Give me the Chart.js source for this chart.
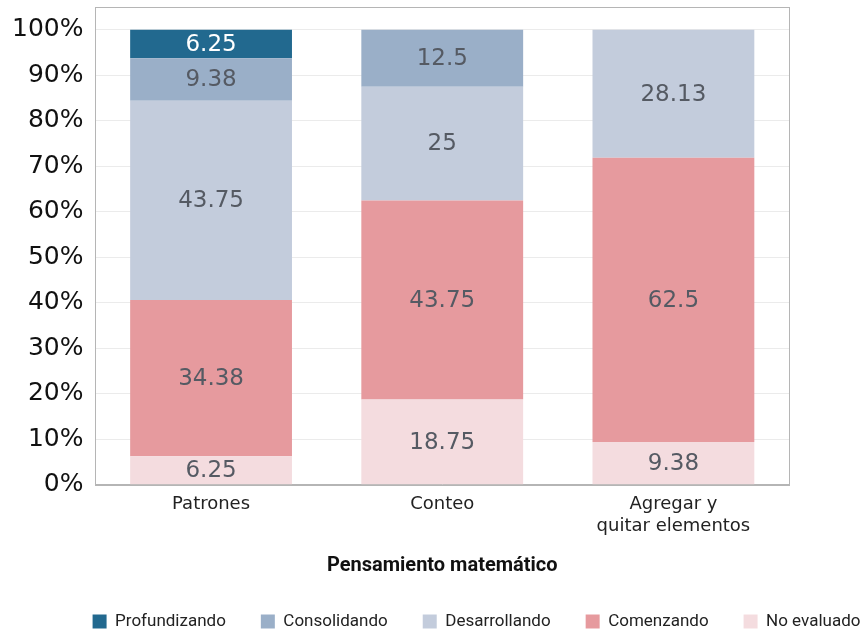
<!DOCTYPE html>
<html>
<head>
<meta charset="utf-8">
<script src="https://cdn.jsdelivr.net/npm/chart.js@4.4.0/dist/chart.umd.min.js"></script>
<style>
html,body{margin:0;padding:0;background:#fff;}
#contenedor{width:863px;height:633px;}
</style>
</head>
<body>
<div id="contenedor"><canvas id="grafica"></canvas></div>
<script>
var categorias = ['Patrones', 'Conteo', ['Agregar y', 'quitar elementos']];
var noEvaluado = [6.25, 18.75, 9.38];
var comenzando = [34.38, 43.75, 62.5];
var desarrollando = [43.75, 25, 28.13];
var consolidando = [9.38, 12.5, 0];
var profundizando = [6.25, 0, 0];
var marcasY = [0, 10, 20, 30, 40, 50, 60, 70, 80, 90, 100];

// etiquetas dentro de cada tramo
var etiquetas = {
	id: 'etiquetas',
	afterDatasetsDraw: function(chart){
		var ctx = chart.ctx;
		ctx.save();
		ctx.font = '23px "DejaVu Sans"';
		ctx.textAlign = 'center';
		ctx.textBaseline = 'middle';
		chart.data.datasets.forEach(function(ds, i){
			var meta = chart.getDatasetMeta(i);
			meta.data.forEach(function(barra, j){
				var v = ds.data[j];
				if(!v) return;
				ctx.fillStyle = ds.colorTexto;
				ctx.fillText(String(v), barra.x, (barra.y + barra.base) / 2 + 1);
			});
		});
		ctx.restore();
	}
};

// marco gris del área + leyenda corrida a la derecha
var marco = {
	id: 'marco',
	afterLayout: function(chart){
		chart.legend.left += 45;
		chart.legend.right += 45;
	},
	afterDraw: function(chart){
		var a = chart.chartArea, ctx = chart.ctx;
		ctx.save();
		ctx.strokeStyle = '#b5b5b5';
		ctx.lineWidth = 1;
		ctx.strokeRect(Math.round(a.left) + 0.5, Math.round(a.top) + 0.5, Math.round(a.right - a.left), Math.round(a.bottom - a.top));
		ctx.restore();
	}
};

var grafica = new Chart(document.getElementById('grafica'), {
	type: 'bar',
	data: {
		labels: categorias,
		datasets: [
			{label: 'No evaluado', data: noEvaluado, backgroundColor: '#f4dcdf', colorTexto: '#555a63'},
			{label: 'Comenzando', data: comenzando, backgroundColor: '#e69a9e', colorTexto: '#555a63'},
			{label: 'Desarrollando', data: desarrollando, backgroundColor: '#c3ccdc', colorTexto: '#555a63'},
			{label: 'Consolidando', data: consolidando, backgroundColor: '#9aafc8', colorTexto: '#555a63'},
			{label: 'Profundizando', data: profundizando, backgroundColor: '#22698f', colorTexto: '#ffffff'}
		]
	},
	options: {
		responsive: true,
		maintainAspectRatio: false,
		animation: false,
		layout: {padding: {top: 7, right: 0, bottom: -7, left: 0}},
		datasets: {bar: {categoryPercentage: 1, barPercentage: 0.7, borderWidth: 0}},
		plugins: {
			tooltip: {enabled: false},
			legend: {
				position: 'bottom',
				reverse: true,
				labels: {
					font: {family: 'Roboto', size: 17},
					color: '#222',
					boxWidth: 14,
					boxHeight: 14,
					padding: 35
				}
			}
		},
		scales: {
			x: {
				stacked: true,
				grid: {display: false},
				border: {color: '#b5b5b5'},
				ticks: {font: {family: 'DejaVu Sans', size: 18}, color: '#222', padding: 1},
				title: {
					display: true,
					text: 'Pensamiento matemático',
					font: {family: 'Roboto', size: 20, weight: 'bold'},
					color: '#111',
					padding: {top: 16, bottom: 0}
				}
			},
			y: {
				stacked: true,
				min: 0,
				max: 105,
				afterBuildTicks: function(eje){
					eje.ticks = marcasY.map(function(v){ return {value: v}; });
				},
				afterFit: function(eje){
					eje.paddingTop = 0;
				},
				grid: {color: '#ebebeb', drawTicks: false},
				border: {display: false},
				ticks: {
					font: {family: 'DejaVu Sans', size: 25},
					color: '#111',
					padding: 12,
					callback: function(v){ return v + '%'; }
				}
			},
			derecha: {
				position: 'right',
				grid: {display: false},
				border: {display: false},
				ticks: {display: false},
				afterFit: function(eje){
					eje.width = 74;
				}
			}
		}
	},
	plugins: [etiquetas, marco]
});
</script>
</body>
</html>
